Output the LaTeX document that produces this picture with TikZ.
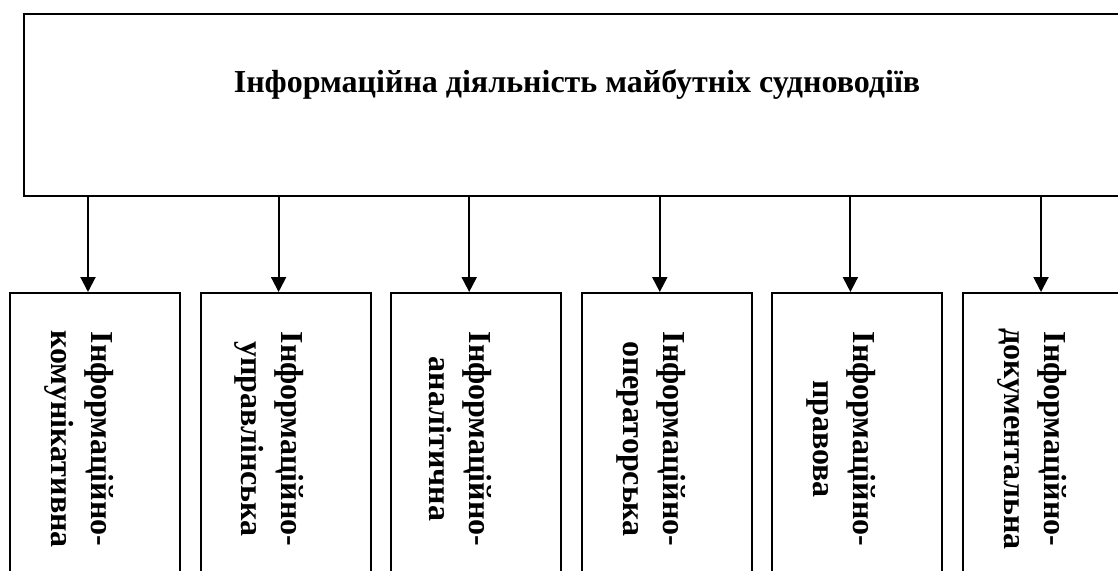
\documentclass[tikz,border=0pt]{standalone}
\usepackage{fontspec}
\setmainfont{Liberation Serif}
\usepackage{tikz}
\usetikzlibrary{arrows.meta}

\begin{document}
\begin{tikzpicture}[x=1pt, y=-1pt,
	box/.style={draw, line width=2pt, minimum width=170pt, minimum height=288pt, inner sep=0pt},
	lbl/.style={rotate=-90, align=center, font=\fontsize{32}{40}\selectfont\bfseries},
	arr/.style={line width=2pt, -{Triangle[width=15pt,length=15pt]}}]
	\clip (0,0) rectangle (1118,570);
	% main box
	\node[name=top, draw, line width=2pt, minimum width=1106pt, minimum height=182pt] at (577,105) {};
	\node[name=title, font=\fontsize{32}{37}\selectfont\bfseries] at (577,84) {Інформаційна діяльність майбутніх судноводіїв};
	% kinds of activity
	\node[name=b1, box] at (95,437) {};
	\node[name=b2, box] at (285.6,437) {};
	\node[name=b3, box] at (476.2,437) {};
	\node[name=b4, box] at (666.8,437) {};
	\node[name=b5, box] at (857.4,437) {};
	\node[name=b6, box] at (1048,437) {};
	\node[name=t1, lbl] at (79,439) {Інформаційно-\\комунікативна};
	\node[name=t2, lbl] at (269.6,439) {Інформаційно-\\управлінська};
	\node[name=t3, lbl] at (460.2,439) {Інформаційно-\\аналітична};
	\node[name=t4, lbl] at (650.8,439) {Інформаційно-\\операторська};
	\node[name=t5, lbl] at (841.4,439) {Інформаційно-\\правова};
	\node[name=t6, lbl] at (1032,439) {Інформаційно-\\документальна};
	% arrows
	\draw[arr] ([xshift=-7pt]b1.north |- top.south) -- ([xshift=-7pt]b1.north);
	\draw[arr] ([xshift=-7pt]b2.north |- top.south) -- ([xshift=-7pt]b2.north);
	\draw[arr] ([xshift=-7pt]b3.north |- top.south) -- ([xshift=-7pt]b3.north);
	\draw[arr] ([xshift=-7pt]b4.north |- top.south) -- ([xshift=-7pt]b4.north);
	\draw[arr] ([xshift=-7pt]b5.north |- top.south) -- ([xshift=-7pt]b5.north);
	\draw[arr] ([xshift=-7pt]b6.north |- top.south) -- ([xshift=-7pt]b6.north);
\end{tikzpicture}
\end{document}
